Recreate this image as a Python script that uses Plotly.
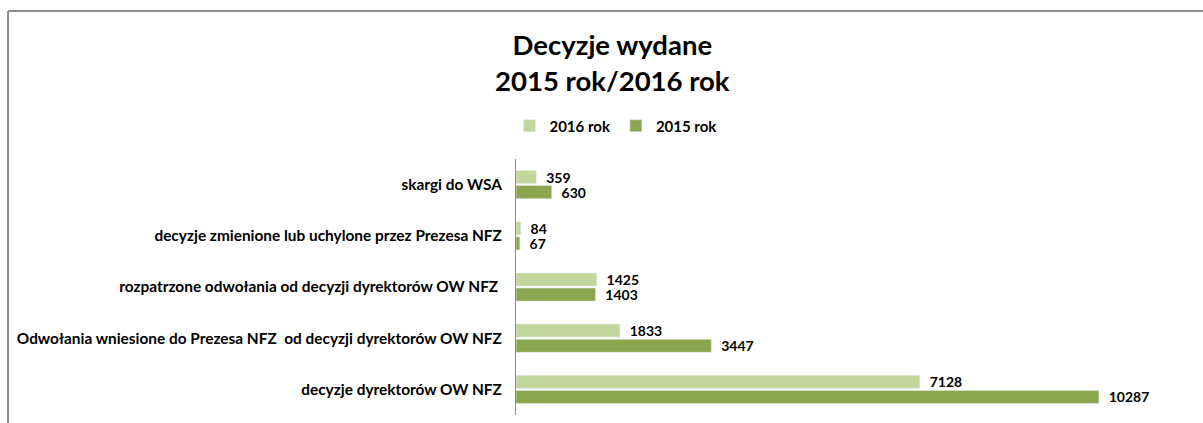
import plotly.graph_objects as go

categories = [
    "skargi do WSA",
    "decyzje zmienione lub uchylone przez Prezesa NFZ",
    "rozpatrzone odwołania od decyzji dyrektorów OW NFZ ",
    "Odwołania wniesione do Prezesa NFZ\u00a0 od decyzji dyrektorów OW NFZ",
    "decyzje dyrektorów OW NFZ",
]
values_2016 = [359, 84, 1425, 1833, 7128]
values_2015 = [630, 67, 1403, 3447, 10287]

FONT = "Lato, Liberation Sans, Arial, sans-serif"
label_font = dict(size=14, color="black", family=FONT, weight="bold")

fig = go.Figure()
fig.add_trace(go.Bar(
    y=categories, x=values_2016, name="2016 rok", orientation="h",
    marker_color="#C3D69B", text=values_2016, texttemplate="\u00a0\u00a0%{text}",
    textposition="outside", textfont=label_font, constraintext="none",
    cliponaxis=False,
))
fig.add_trace(go.Bar(
    y=categories, x=values_2015, name="2015 rok", orientation="h",
    marker_color="#8AA64F", text=values_2015, texttemplate="\u00a0\u00a0%{text}",
    textposition="outside", textfont=label_font, constraintext="none",
    cliponaxis=False,
))

# outer frame of the original chart
frame = dict(type="line", xref="paper", yref="paper",
             line=dict(color="#8c8c8c", width=2))
fig.add_shape(**frame, x0=-0.747, x1=-0.747, y0=-0.1, y1=1.578)
fig.add_shape(**frame, x0=-0.747, x1=1.2, y0=1.578, y1=1.578)

fig.update_layout(
    width=1203, height=423,
    margin=dict(l=516, r=7, t=159, b=8),
    paper_bgcolor="white", plot_bgcolor="white",
    font=dict(family=FONT, color="black"),
    title=dict(
        text="Decyzje wydane<br>2015 rok/2016 rok",
        x=0.509, xanchor="center", y=0.87, yanchor="middle",
        font=dict(size=27.5, family=FONT, color="black", weight="bold"),
    ),
    legend=dict(
        orientation="h", xref="container", yref="container",
        x=0.512, xanchor="center", y=0.702, yanchor="middle",
        font=dict(size=15, weight="bold"), itemwidth=30, traceorder="normal",
    ),
    barmode="group", bargap=0.41, bargroupgap=0.13,
    xaxis=dict(range=[0, 12000], visible=False, showgrid=False),
    yaxis=dict(
        autorange="reversed", showline=True, linecolor="#8c8c8c", linewidth=1,
        ticks="", showgrid=False, ticklabelstandoff=10,
        tickfont=dict(size=15.4, weight="bold", family=FONT),
    ),
)

fig.write_html("out.html", config={"displayModeBar": False},
               post_script="document.body.style.margin='0px';")
